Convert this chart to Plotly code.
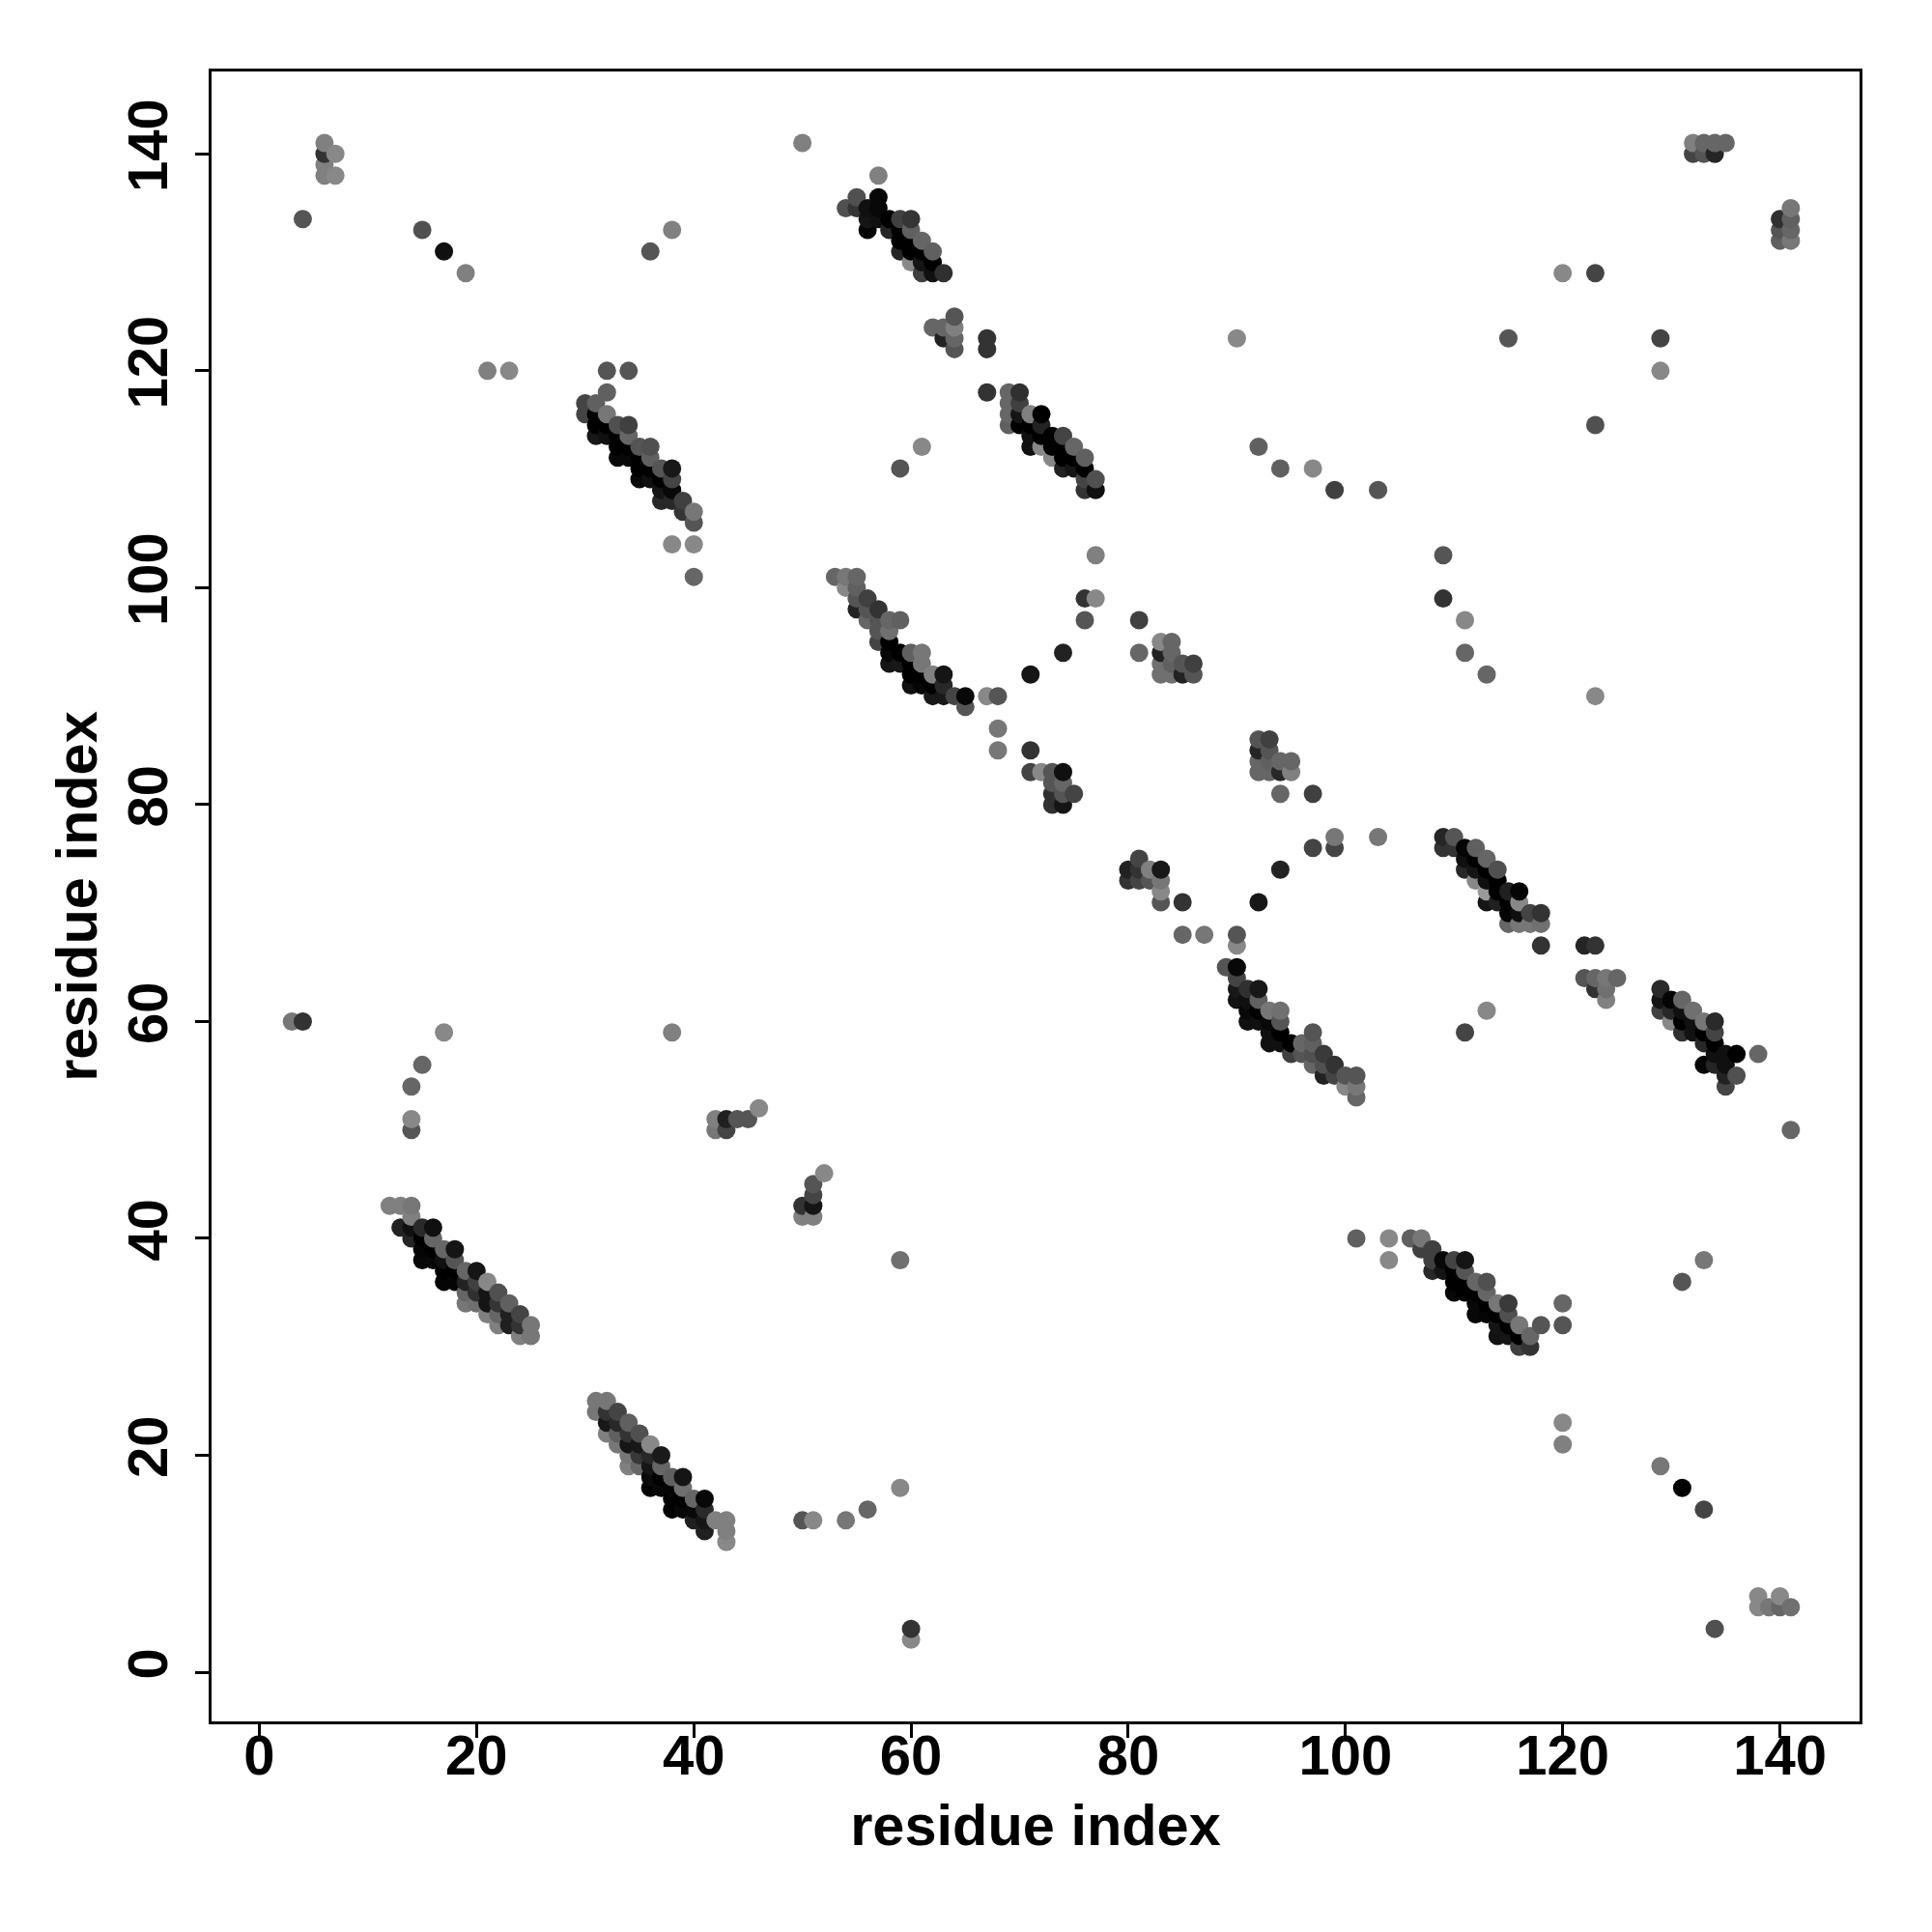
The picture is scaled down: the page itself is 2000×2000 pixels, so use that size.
import plotly.graph_objects as go

tick_values = [0, 20, 40, 60, 80, 100, 120, 140]
axis_title = "residue index"

# (residue i, residue j, grey level)
block_i = [(12,43,0x80),(13,43,0x80),(14,43,0x77),(14,42,0x80),(13,41,0x22),(14,41,0x10),(15,41,0x2a),(16,41,0x10),
 (14,40,0x25),(15,40,0x00),(16,40,0x66),(15,39,0x05),(15,38,0x08),(16,39,0x00),(16,38,0x08),(17,39,0x66),(18,39,0x15),
 (17,38,0x10),(18,38,0x55),(17,37,0x00),(17,36,0x05),(18,37,0x00),(18,36,0x05),(19,37,0x66),(20,37,0x15),(19,36,0x22),
 (20,36,0x40),(21,36,0x88),(19,35,0x66),(19,34,0x77),(20,35,0x30),(20,34,0x70),(21,35,0x15),(21,34,0x15),(22,35,0x50),
 (21,33,0x80),(22,34,0x35),(23,34,0x60),(22,33,0x66),(23,33,0x20),(24,33,0x44),(22,32,0x80),(23,32,0x20),(24,32,0x33),
 (25,32,0x77),(24,31,0x80),(25,31,0x77)]
block_j = [(31,25,0x77),(32,25,0x77),(31,24,0x77),(32,24,0x33),(33,24,0x44),(32,23,0x18),(33,23,0x28),(34,23,0x60),
 (32,22,0x80),(33,22,0x60),(34,22,0x33),(35,22,0x50),(33,21,0x77),(34,21,0x15),(35,21,0x18),(36,21,0x88),(34,20,0x77),
 (35,20,0x38),(36,20,0x28),(37,20,0x1a),(34,19,0x80),(35,19,0x66),(36,19,0x15),(37,19,0x66),(36,18,0x0a),(36,17,0x00),
 (37,18,0x00),(37,17,0x08),(38,18,0x60),(39,18,0x15),(38,17,0x05),(39,17,0x70),(38,16,0x00),(38,15,0x00),(39,16,0x00),
 (39,15,0x08),(40,16,0x66),(41,16,0x08),(40,15,0x08),(41,15,0x2a),(40,14,0x20),(41,14,0x15),(41,13,0x20),(42,14,0x80),
 (43,14,0x80),(43,13,0x80),(43,12,0x88)]
block_a = [(32,118,0x60),(30,117,0x44),(31,117,0x60),(30,116,0x44),(32,116,0x77),(31,116,0x00),(31,115,0x00),(31,114,0x18),
 (32,115,0x00),(32,114,0x10),(33,115,0x50),(34,115,0x40),(34,114,0x66),(33,114,0x00),(33,113,0x00),(33,112,0x08),
 (34,113,0x00),(34,112,0x08),(35,113,0x55),(36,113,0x50),(36,112,0x60),(35,112,0x00),(35,111,0x00),(35,110,0x08),
 (36,111,0x00),(36,110,0x10),(37,111,0x55),(38,111,0x18),(38,110,0x44),(37,110,0x00),(37,109,0x15),(37,108,0x28),
 (38,109,0x08),(38,108,0x28),(39,108,0x40),(39,107,0x35),(40,107,0x77),(40,106,0x55),(38,104,0x88),(40,104,0x88),(40,101,0x66)]
block_b = [(57,138,0x80),(54,135,0x50),(55,136,0x50),(55,135,0x35),(56,135,0x10),(57,136,0x08),(57,135,0x08),(57,134,0x10),
 (56,134,0x15),(56,133,0x05),(58,134,0x00),(58,133,0x25),(59,134,0x40),(60,134,0x35),(60,133,0x60),(59,133,0x00),
 (59,132,0x00),(59,131,0x25),(60,132,0x00),(60,131,0x00),(61,132,0x66),(62,131,0x60),(61,131,0x00),(61,130,0x15),
 (60,130,0x88),(61,129,0x40),(62,130,0x00),(62,129,0x10),(63,129,0x30),
 (62,124,0x66),(63,124,0x66),(64,125,0x55),(64,124,0x80),(64,123,0x66),(64,122,0x55),(63,123,0x22),(67,123,0x33),(67,122,0x33)]
block_c = [(67,118,0x33),(69,118,0x66),(70,118,0x30),(69,117,0x66),(70,117,0x40),(69,116,0x66),(69,115,0x60),(70,116,0x15),
 (70,115,0x00),(71,116,0x80),(72,116,0x00),(71,115,0x00),(72,115,0x22),(71,114,0x10),(71,113,0x10),(72,113,0x88),
 (72,114,0x00),(73,114,0x00),(74,114,0x44),(73,113,0x00),(75,113,0x66),(74,113,0x00),(73,112,0x88),(74,112,0x00),
 (74,111,0x22),(75,112,0x00),(75,111,0x15),(76,112,0x60),(76,111,0x00),(77,110,0x50),(76,110,0x44),(76,109,0x33),(77,109,0x10)]
block_d = [(53,101,0x66),(54,101,0x77),(55,101,0x66),(54,100,0x88),(55,100,0x60),(55,99,0x55),(56,99,0x40),(55,98,0x22),
 (56,98,0x55),(57,98,0x33),(56,97,0x66),(57,97,0x55),(58,97,0x66),(59,97,0x60),(57,96,0x55),(58,96,0x70),(57,95,0x44),
 (58,95,0x00),(58,94,0x08),(58,93,0x15),(59,94,0x00),(59,93,0x18),(60,94,0x60),(61,94,0x77),(61,93,0x77),(60,93,0x00),
 (60,92,0x00),(60,91,0x10),(61,92,0x00),(61,91,0x05),(62,92,0x80),(63,92,0x15),(62,91,0x00),(62,90,0x18),(63,91,0x28),
 (63,90,0x18),(64,90,0x44),(65,90,0x08),(65,89,0x55),(67,90,0x88),(68,90,0x55),(68,87,0x77),(68,85,0x77)]
block_e = [(71,85,0x33),(71,83,0x44),(72,83,0x88),(73,83,0x55),(74,83,0x10),(73,82,0x55),(74,82,0x66),(73,81,0x30),
 (74,81,0x55),(75,81,0x44),(73,80,0x30),(74,80,0x15),(71,92,0x15),(74,94,0x22),(76,97,0x55),(76,99,0x33),(77,99,0x88),(77,103,0x80)]
block_f = [(81,97,0x40),(81,94,0x66),(83,95,0x88),(84,95,0x66),(83,94,0x22),(84,94,0x66),(83,93,0x70),(84,93,0x60),
 (83,92,0x70),(84,92,0x70),(85,93,0x55),(86,93,0x40),(85,92,0x22),(86,92,0x55)]
block_g = [(92,86,0x55),(93,86,0x40),(92,85,0x25),(93,85,0x55),(92,84,0x66),(93,84,0x60),(94,84,0x66),(95,84,0x66),
 (92,83,0x66),(93,83,0x66),(94,83,0x28),(95,83,0x80),(94,81,0x66),(97,81,0x40)]
block_h = [(80,74,0x22),(80,73,0x33),(81,75,0x44),(81,74,0x33),(81,73,0x44),(82,74,0x80),(82,73,0x55),(83,74,0x18),
 (83,73,0x77),(83,72,0x88),(83,71,0x55),(85,71,0x33),(85,68,0x66),(87,68,0x77),(90,68,0x55),(90,67,0x88),(92,71,0x18),
 (94,74,0x22),(97,76,0x44),(99,77,0x77),(99,76,0x44),(103,77,0x77)]
block_k = [(89,65,0x55),(90,65,0x08),(90,64,0x44),(90,63,0x18),(91,63,0x30),(92,63,0x18),(90,62,0x12),(91,62,0x10),
 (92,62,0x60),(91,61,0x08),(91,60,0x10),(92,61,0x00),(92,60,0x10),(93,61,0x77),(94,61,0x70),(93,60,0x08),(94,60,0x55),
 (93,59,0x10),(93,58,0x10),(94,59,0x00),(94,58,0x10),(95,58,0x00),(95,57,0x40),(96,58,0x66),(97,59,0x55),(97,58,0x60),
 (96,57,0x55),(97,57,0x50),(98,57,0x3a),(97,56,0x66),(98,56,0x50),(99,56,0x33),(98,55,0x22),(99,55,0x44),(100,55,0x55),
 (101,55,0x55),(100,54,0x88),(101,54,0x77),(101,53,0x66)]
block_l = [(109,77,0x25),(110,77,0x55),(109,76,0x33),(110,76,0x33),(111,76,0x05),(112,76,0x60),(111,75,0x10),(112,75,0x00),
 (113,75,0x66),(111,74,0x28),(112,74,0x15),(113,74,0x00),(114,74,0x50),(112,73,0x88),(113,73,0x10),(114,73,0x00),
 (113,72,0x99),(114,72,0x00),(115,72,0x20),(116,72,0x05),(113,71,0x15),(114,71,0x20),(115,71,0x00),(116,71,0x88),
 (115,70,0x05),(116,70,0x10),(117,70,0x44),(118,70,0x33),(115,69,0x66),(116,69,0x77),(117,69,0x77),(118,69,0x70),(118,67,0x33)]
block_m = [(129,63,0x2a),(129,62,0x15),(130,62,0x05),(131,62,0x66),(129,61,0x40),(130,61,0x28),(131,61,0x10),(132,61,0x70),
 (130,60,0x88),(131,60,0x00),(132,60,0x10),(133,60,0x77),(134,60,0x2a),(131,59,0x30),(132,59,0x12),(133,59,0x00),
 (134,59,0x44),(133,58,0x28),(134,58,0x00),(134,57,0x10),(135,57,0x10),(136,57,0x00),(138,57,0x66),(133,56,0x05),
 (134,56,0x25),(135,56,0x10),(135,55,0x22),(136,55,0x50),(135,54,0x44),(141,50,0x66)]
block_n = [(101,40,0x60),(104,40,0x88),(104,38,0x88),(106,40,0x60),(107,40,0x77),(107,39,0x40),(108,39,0x40),(108,38,0x40),
 (108,37,0x28),(109,38,0x08),(110,38,0x44),(111,38,0x15),(109,37,0x15),(110,37,0x00),(111,37,0x55),(110,36,0x00),
 (110,35,0x08),(111,36,0x00),(111,35,0x00),(112,36,0x66),(113,36,0x50),(113,35,0x66),(112,35,0x00),(112,34,0x08),
 (112,33,0x08),(113,34,0x00),(113,33,0x05),(114,34,0x77),(115,34,0x3a),(115,33,0x50),(114,33,0x00),(114,32,0x15),
 (114,31,0x12),(115,32,0x00),(115,31,0x15),(116,32,0x77),(117,31,0x66),(118,32,0x55),(116,31,0x00),(116,30,0x40),(117,30,0x33)]
scatter_left = [(4,134,0x55),(6,141,0x80),(6,140,0x33),(6,139,0x80),(6,138,0x80),(7,140,0x88),(7,138,0x88),(15,133,0x50),
 (17,131,0x10),(19,129,0x80),(21,120,0x80),(23,120,0x88),(36,131,0x55),(38,133,0x80),(32,120,0x55),(34,120,0x55),
 (50,141,0x80),(59,111,0x55),(61,113,0x88),
 (3,60,0x77),(4,60,0x33),(14,54,0x66),(14,51,0x88),(14,50,0x55),(15,56,0x66),(17,59,0x88),(38,59,0x80),
 (42,51,0x80),(42,50,0x77),(43,51,0x20),(43,50,0x44),(44,51,0x55),(45,51,0x55),(46,52,0x88),
 (50,43,0x33),(50,42,0x80),(51,45,0x55),(51,44,0x44),(51,43,0x15),(51,42,0x80),(52,46,0x88),
 (59,38,0x70),(50,14,0x55),(51,14,0x88),(54,14,0x77),(56,15,0x66),(59,17,0x88),(60,4,0x33),(60,3,0x88)]
scatter_right = [(90,123,0x88),(92,113,0x60),(94,111,0x60),(97,111,0x88),(99,109,0x40),(103,109,0x55),(109,103,0x55),(109,99,0x33),
 (111,97,0x88),(111,94,0x66),(113,92,0x66),(123,90,0x88),(115,123,0x55),(120,129,0x88),(123,129,0x44),(123,115,0x50),
 (129,123,0x44),(129,120,0x88),(132,141,0x80),(133,141,0x66),(134,141,0x66),(135,141,0x66),(132,140,0x44),(133,140,0x55),
 (134,140,0x25),(140,134,0x30),(140,133,0x55),(140,132,0x60),(141,135,0x77),(141,134,0x60),(141,133,0x66),(141,132,0x77),
 (122,67,0x25),(123,67,0x33),(122,64,0x55),(123,64,0x66),(123,63,0x33),(124,64,0x77),(124,63,0x70),(124,62,0x80),(125,64,0x66),
 (111,59,0x44),(113,61,0x88),(120,34,0x66),(120,32,0x55),(120,23,0x88),(120,21,0x80),(131,36,0x55),(133,38,0x77),
 (129,19,0x77),(131,17,0x00),(133,15,0x44),(138,7,0x88),(138,6,0x88),(139,6,0x77),(140,7,0x88),(140,6,0x66),(141,6,0x70),(134,4,0x50)]

points = sorted(block_i + block_j + block_a + block_b + block_c + block_d + block_e + block_f + block_g
                + block_h + block_k + block_l + block_m + block_n + scatter_left + scatter_right,
                key=lambda p: (p[0], p[1]))

fig = go.Figure(go.Scatter(
    x=[p[0] for p in points], y=[p[1] for p in points], mode="markers",
    marker=dict(size=19, color=[f"rgb({p[2]},{p[2]},{p[2]})" for p in points], line=dict(width=0)),
    hoverinfo="skip", showlegend=False))

tick_font = dict(family="Liberation Sans", size=58, color="black", weight="bold")
title_font = dict(family="Liberation Sans", size=59.5, color="black", weight="bold")
axis = dict(tickmode="array", tickvals=tick_values, ticktext=[str(v) for v in tick_values],
            ticks="outside", ticklen=14, tickwidth=3, tickcolor="black",
            showline=True, linewidth=3, linecolor="black", mirror=True,
            showgrid=False, zeroline=False, tickfont=tick_font)
fig.update_layout(
    width=2000, height=2000, paper_bgcolor="white", plot_bgcolor="white",
    margin=dict(l=210.5, r=82.5, t=65.5, b=226, autoexpand=False),
    xaxis=dict(axis, range=[-4.4, 147.33], ticklabelstandoff=-32,
               title=dict(text=axis_title, font=title_font, standoff=21)),
    yaxis=dict(axis, range=[-4.54, 147.6], tickangle=-90, ticklabelstandoff=6,
               title=dict(text=axis_title, font=title_font, standoff=0)),
)
fig.write_html("out.html")
